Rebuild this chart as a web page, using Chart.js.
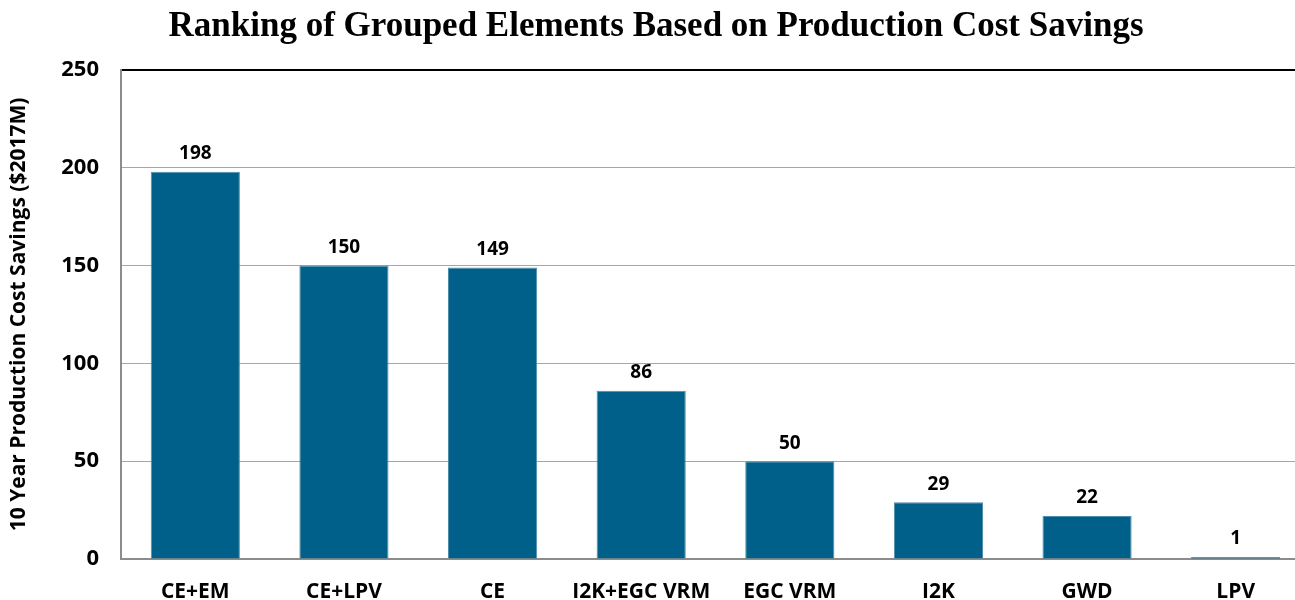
<!DOCTYPE html>
<html>
<head>
<meta charset="utf-8">
<script src="https://cdn.jsdelivr.net/npm/chart.js@4/dist/chart.umd.min.js"></script>
<style>
  html, body { margin: 0; padding: 0; background: #fff; overflow: hidden; }
  #wrap { width: 1310px; height: 600px; position: relative; }
</style>
</head>
<body>
<div id="wrap"><canvas id="chart"></canvas></div>
<script>
// данные графика
const categories = ['CE+EM', 'CE+LPV', 'CE', 'I2K+EGC VRM', 'EGC VRM', 'I2K', 'GWD', 'LPV'];
const savings = [198, 150, 149, 86, 50, 29, 22, 1];
const yTicks = [0, 50, 100, 150, 200, 250];

const chartTitle = 'Ranking of Grouped Elements Based on Production Cost Savings';
const yTitle = '10 Year Production Cost Savings ($2017M)';

const sansBold = '"Open Sans", "Liberation Sans", sans-serif';

// подписи над столбцами и заголовок
const labelsPlugin = {
    id: 'labelsPlugin',
    afterDatasetsDraw(chart) {
        const ctx = chart.ctx;
        const meta = chart.getDatasetMeta(0);
        ctx.save();
        ctx.fillStyle = '#000';
        ctx.font = 'bold 19px ' + sansBold;
        ctx.textAlign = 'center';
        ctx.textBaseline = 'middle';
        meta.data.forEach((bar, i) => {
            ctx.fillText(String(savings[i]), bar.x, bar.y - 18);
        });

        ctx.font = 'bold 35px "Liberation Serif", "DejaVu Serif", serif';
        ctx.fillText(chartTitle, 656, 27);
        ctx.restore();
    }
};

new Chart(document.getElementById('chart'), {
    type: 'bar',
    data: {
        labels: categories,
        datasets: [{
            data: savings,
            backgroundColor: '#006089',
            borderColor: '#4f8fab',
            borderWidth: 1,
            categoryPercentage: 1,
            barPercentage: 0.6
        }]
    },
    options: {
        responsive: true,
        maintainAspectRatio: false,
        animation: false,
        layout: { padding: { top: 70, right: 0, left: 6, bottom: 0 } },
        plugins: {
            legend: { display: false },
            tooltip: { enabled: false }
        },
        scales: {
            x: {
                grid: { display: false },
                border: { color: '#8c8c8c', width: 2 },
                ticks: {
                    color: '#000',
                    font: { family: sansBold, size: 21, weight: 'bold' },
                    padding: 12,
                    maxRotation: 0
                },
                afterFit(scale) { scale.height = 41; }
            },
            y: {
                min: 0,
                max: 250,
                afterBuildTicks(scale) {
                    scale.ticks = yTicks.map(v => ({ value: v }));
                },
                grid: {
                    color: ctx => ctx.tick && ctx.tick.value === 250 ? '#000' : '#a6a6a6',
                    lineWidth: ctx => ctx.tick && ctx.tick.value === 250 ? 2 : 1,
                    drawTicks: false
                },
                border: { color: '#8c8c8c', width: 2 },
                ticks: {
                    color: '#000',
                    font: { family: sansBold, size: 22, weight: 'bold' },
                    padding: 22
                },
                title: {
                    display: true,
                    text: yTitle,
                    color: '#000',
                    font: { family: sansBold, size: 21, weight: 'bold' },
                    padding: { top: 0, bottom: 0 }
                },
                afterFit(scale) { scale.width = 115; }
            }
        }
    },
    plugins: [labelsPlugin]
});
</script>
</body>
</html>
